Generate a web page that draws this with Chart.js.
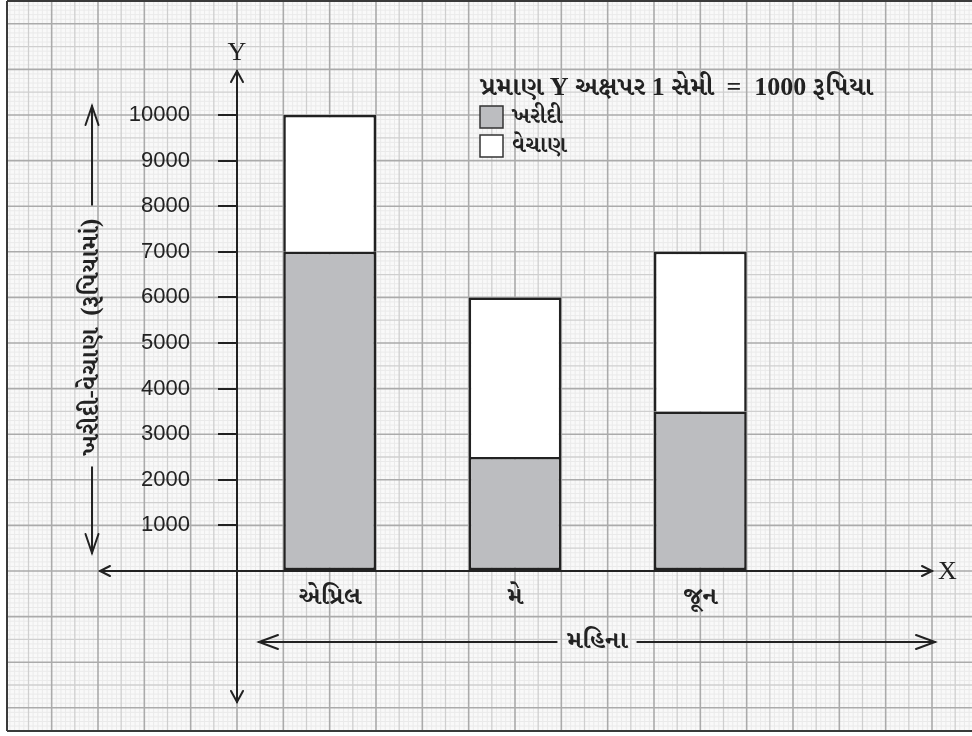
<!DOCTYPE html>
<html><head><meta charset="utf-8">
<script src="https://cdn.jsdelivr.net/npm/chart.js@4.4.1/dist/chart.umd.min.js"></script>
<style>html,body{margin:0;padding:0;background:#fff;}canvas{display:block;}</style>
</head><body>
<canvas id="c" width="972" height="736"></canvas>
<script>
// ---- data ----
const months = ['એપ્રિલ', 'મે', 'જૂન'];
const purchase = [7000, 2500, 3500];
const sales = [3000, 3500, 3500];
const seriesNames = ['ખરીદી', 'વેચાણ'];
const yMin = 0, yMax = 10000, yStep = 1000;
const yTitle = 'ખરીદી-વેચાણ  (રૂપિયામાં)';
const xTitle = 'મહિના';
const scaleNote = 'પ્રમાણ Y અક્ષપર 1 સેમી  =  1000 રૂપિયા';

const GUJ = '"Liberation Serif","Noto Serif Gujarati","Noto Sans Gujarati","Lohit Gujarati",serif';
const INK = '#222';

function arrow(ctx, tx, ty, dx, dy, len, half) {
  const bx = tx - dx * len, by = ty - dy * len;
  const nx = -dy, ny = dx;
  ctx.beginPath();
  ctx.moveTo(bx + nx * half, by + ny * half);
  ctx.lineTo(tx, ty);
  ctx.lineTo(bx - nx * half, by - ny * half);
  ctx.stroke();
}

const paper = {
  id: 'paper',
  beforeDraw(chart) {
    const { ctx, chartArea, scales: { x, y } } = chart;
    const W = chart.width, H = chart.height;
    ctx.save();
    ctx.fillStyle = '#fff';
    ctx.fillRect(0, 0, W, H);
    const L = 7, T = 1, R = W, B = 731;
    ctx.fillStyle = '#f9f9f9';
    ctx.fillRect(L, T, R - L, B - T);
    ctx.beginPath(); ctx.rect(L, T, R - L, B - T); ctx.clip();
    const x0 = chartArea.left, y0 = y.getPixelForValue(0);
    const px = (x.getPixelForValue(1) - x.getPixelForValue(0)) / 4;
    const py = y.getPixelForValue(0) - y.getPixelForValue(yStep);
    const m = k => ((k % 10) + 10) % 10;
    const levels = [
      { test: k => m(k) !== 0 && m(k) !== 5, color: '#eaeaea', lw: 1 },
      { test: k => m(k) === 5, color: '#cfcfcf', lw: 1.3 },
      { test: k => m(k) === 0, color: '#ababab', lw: 1.6 }
    ];
    levels.forEach(lv => {
      ctx.strokeStyle = lv.color; ctx.lineWidth = lv.lw;
      ctx.beginPath();
      const kx0 = Math.floor((L - x0) / (px / 10)) - 1, kx1 = Math.ceil((R - x0) / (px / 10)) + 1;
      for (let k = kx0; k <= kx1; k++) {
        if (!lv.test(k)) continue;
        const xx = x0 + k * px / 10;
        ctx.moveTo(xx, T); ctx.lineTo(xx, B);
      }
      const ky0 = Math.floor((y0 - B) / (py / 10)) - 1, ky1 = Math.ceil((y0 - T) / (py / 10)) + 1;
      for (let k = ky0; k <= ky1; k++) {
        if (!lv.test(k)) continue;
        const yy = y0 - k * py / 10;
        ctx.moveTo(L, yy); ctx.lineTo(R, yy);
      }
      ctx.stroke();
    });
    ctx.restore();
    ctx.save();
    ctx.strokeStyle = '#3a3a3a'; ctx.lineWidth = 2;
    ctx.beginPath();
    ctx.moveTo(L, T); ctx.lineTo(R, T);
    ctx.moveTo(L, T); ctx.lineTo(L, B);
    ctx.moveTo(L, B); ctx.lineTo(R, B);
    ctx.stroke();
    ctx.restore();
  }
};

const decor = {
  id: 'decor',
  afterDraw(chart) {
    const { ctx, chartArea, scales: { y } } = chart;
    const ax = chartArea.left, ay = y.getPixelForValue(0);
    ctx.save();
    ctx.strokeStyle = INK; ctx.fillStyle = INK; ctx.lineWidth = 2;
    ctx.lineCap = 'round'; ctx.lineJoin = 'miter';
    // Y axis
    ctx.beginPath(); ctx.moveTo(ax, 71); ctx.lineTo(ax, 702); ctx.stroke();
    arrow(ctx, ax, 71, 0, -1, 11, 6);
    arrow(ctx, ax, 702, 0, 1, 11, 6);
    // X axis
    ctx.beginPath(); ctx.moveTo(100, ay); ctx.lineTo(932, ay); ctx.stroke();
    arrow(ctx, 100, ay, -1, 0, 10, 5);
    arrow(ctx, 932, ay, 1, 0, 10, 5);
    // axis letters
    ctx.font = '26px "Liberation Serif", serif';
    ctx.textAlign = 'center'; ctx.textBaseline = 'middle';
    ctx.fillText('Y', ax, 53);
    ctx.textAlign = 'left';
    ctx.fillText('X', 938, ay + 1);

    // vertical axis title with arrows
    const tcx = 92, tcy = 337;
    ctx.font = 'bold 25px ' + GUJ;
    const tw = ctx.measureText(yTitle).width;
    ctx.save();
    ctx.translate(tcx, tcy); ctx.rotate(-Math.PI / 2);
    ctx.textAlign = 'center'; ctx.textBaseline = 'middle';
    ctx.fillText(yTitle, 0, 0);
    ctx.restore();
    ctx.beginPath();
    ctx.moveTo(tcx, 106); ctx.lineTo(tcx, tcy - tw / 2 - 14);
    ctx.moveTo(tcx, tcy + tw / 2 + 12); ctx.lineTo(tcx, 553);
    ctx.stroke();
    arrow(ctx, tcx, 106, 0, -1, 19, 6.5);
    arrow(ctx, tcx, 553, 0, 1, 19, 6.5);

    // horizontal axis title with arrows
    const hcx = 597, hcy = 642;
    ctx.font = 'bold 25px ' + GUJ;
    const hw = ctx.measureText(xTitle).width;
    ctx.textAlign = 'center'; ctx.textBaseline = 'middle';
    ctx.fillText(xTitle, hcx, hcy);
    ctx.beginPath();
    ctx.moveTo(259, hcy); ctx.lineTo(hcx - hw / 2 - 10, hcy);
    ctx.moveTo(hcx + hw / 2 + 10, hcy); ctx.lineTo(935, hcy);
    ctx.stroke();
    arrow(ctx, 259, hcy, -1, 0, 19, 7);
    arrow(ctx, 935, hcy, 1, 0, 19, 7);

    // scale note + legend
    ctx.textAlign = 'left'; ctx.textBaseline = 'middle';
    ctx.font = 'bold 26px ' + GUJ;
    ctx.fillText(scaleNote, 480, 88);
    const ds = chart.data.datasets;
    const rows = [117, 146];
    ds.forEach((d, i) => {
      ctx.fillStyle = d.backgroundColor;
      ctx.fillRect(480, rows[i] - 11, 23, 22);
      ctx.strokeStyle = '#333'; ctx.lineWidth = 1.5;
      ctx.strokeRect(480, rows[i] - 11, 23, 22);
      ctx.fillStyle = INK;
      ctx.font = 'bold 22px ' + GUJ;
      ctx.fillText(d.label, 512, rows[i]);
    });
    ctx.restore();
  }
};

new Chart(document.getElementById('c'), {
  type: 'bar',
  data: {
    labels: months,
    datasets: [
      { label: seriesNames[0], data: purchase, backgroundColor: '#bcbdc0', borderColor: INK,
        borderWidth: 2.5, borderSkipped: false, barPercentage: 0.5, categoryPercentage: 1 },
      { label: seriesNames[1], data: sales, backgroundColor: '#ffffff', borderColor: INK,
        borderWidth: 2.5, borderSkipped: 'bottom', barPercentage: 0.5, categoryPercentage: 1 }
    ]
  },
  options: {
    responsive: false,
    animation: false,
    devicePixelRatio: 1,
    layout: { padding: { left: 0, right: 179, top: 115, bottom: 0 } },
    plugins: { legend: { display: false }, tooltip: { enabled: false }, title: { display: false } },
    scales: {
      x: {
        stacked: true, offset: true,
        grid: { display: false, drawTicks: false }, border: { display: false },
        ticks: { font: { family: GUJ, size: 25, weight: 'bold' }, color: INK, padding: 12 },
        afterFit(s) { s.height = 165; }
      },
      y: {
        stacked: true, min: yMin, max: yMax,
        grid: { display: true, drawOnChartArea: false, drawTicks: true, tickLength: 19, color: INK, lineWidth: 2 },
        border: { display: false },
        ticks: {
          stepSize: yStep, padding: 28, color: INK,
          font: { family: '"Liberation Sans", Arial, sans-serif', size: 22 },
          callback: v => (v === 0 ? '' : String(v))
        },
        afterFit(s) { s.width = 237; }
      }
    }
  },
  plugins: [paper, decor]
});
</script>
</body></html>
